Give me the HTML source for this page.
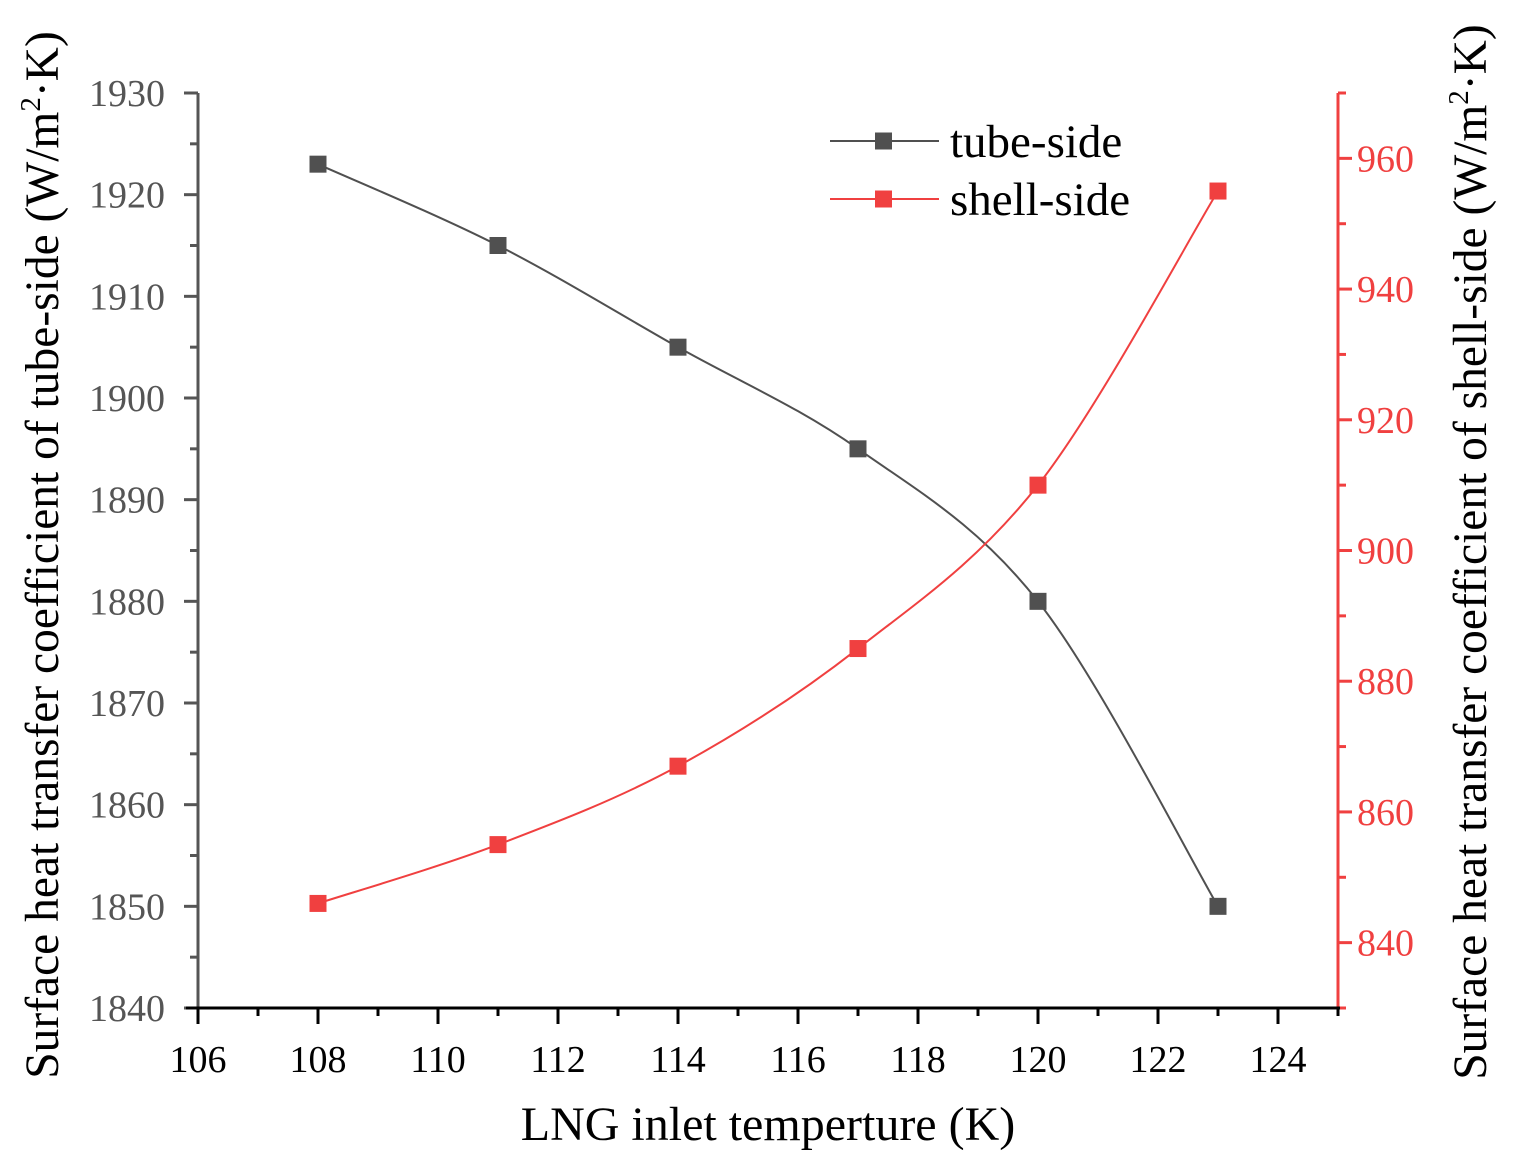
<!DOCTYPE html>
<html><head><meta charset="utf-8"><style>
html,body{margin:0;padding:0;background:#fff}
svg text{font-family:"Liberation Serif",serif}
</style></head><body>
<svg id="chart" width="1525" height="1171" viewBox="0 0 1525 1171" xmlns="http://www.w3.org/2000/svg"></svg>
<script>
const categories=[108,111,114,117,120,123];
const tubeValues=[1923,1915,1905,1895,1880,1850];
const shellValues=[846,855,867,885,910,955];
const xTicks=[106,108,110,112,114,116,118,120,122,124];
const leftTicks=[1840,1850,1860,1870,1880,1890,1900,1910,1920,1930];
const rightTicks=[840,860,880,900,920,940,960];

const svg=document.getElementById('chart');
const NS='http://www.w3.org/2000/svg';
const X0=198,X1=1338,Y0=1008,Y1=93;
const xs=v=>X0+(v-106)/(125-106)*(X1-X0);
const yl=v=>Y0-(v-1840)/(1930-1840)*(Y0-Y1);
const yr=v=>Y0-(v-830)/(970-830)*(Y0-Y1);
function mk(tag,attrs,parent){const e=document.createElementNS(NS,tag);for(const k in attrs)e.setAttribute(k,attrs[k]);(parent||svg).appendChild(e);return e;}
function txt(s,attrs){const e=mk('text',attrs);e.textContent=s;return e;}

// left axis
const la=mk('g',{});


mk('line',{x1:X0,y1:Y1,x2:X0,y2:Y0+1,stroke:'#555',"stroke-width":3},la);
for(let v=1840;v<=1930;v+=5){const y=yl(v);const major=v%10===0;mk('line',{x1:X0,y1:y,x2:X0-(major?14:8),y2:y,stroke:'#555',"stroke-width":3},la);}
leftTicks.forEach(v=>{const t=txt(v,{x:X0-33,y:yl(v)+13,"font-size":38,fill:'#555',"text-anchor":'end'});

});
// right axis
const ra=mk('g',{});


mk('line',{x1:X1,y1:Y1,x2:X1,y2:Y0+1,stroke:'#f04040',"stroke-width":3},ra);
for(let v=830;v<=970;v+=10){const y=yr(v);const major=v%20===0;mk('line',{x1:X1,y1:y,x2:X1+(major?14:8),y2:y,stroke:'#f04040',"stroke-width":3},ra);}
rightTicks.forEach(v=>{const t=txt(v,{x:X1+19,y:yr(v)+13,"font-size":38,fill:'#f04040'});

});
// bottom axis
const ba=mk('g',{});


mk('line',{x1:X0-12,y1:Y0,x2:X1+2,y2:Y0,stroke:'#000',"stroke-width":3},ba);
for(let v=106;v<=125;v+=1){const x=xs(v);const major=v%2===0;mk('line',{x1:x,y1:Y0,x2:x,y2:Y0+(major?16:8),stroke:'#000',"stroke-width":3},ba);}
xTicks.forEach(v=>{const t=txt(v,{x:xs(v),y:1072,"font-size":38,fill:'#000',"text-anchor":'middle'});

});

// titles
const xt=txt('LNG inlet temperture (K)',{x:768,y:1140,"font-size":48,"text-anchor":'middle'});


const lt=mk('text',{transform:'translate(58,555) rotate(-90)',"font-size":47.5,"text-anchor":'middle'});


lt.innerHTML='Surface heat transfer coefficient of tube-side (W/m<tspan dy="-18" font-size="29">2</tspan><tspan dy="18">·K)</tspan>';
const rt=mk('text',{transform:'translate(1486,552) rotate(-90)',"font-size":47.5,"text-anchor":'middle'});


rt.innerHTML='Surface heat transfer coefficient of shell-side (W/m<tspan dy="-18" font-size="29">2</tspan><tspan dy="18">·K)</tspan>';

// smooth path (Catmull-Rom)
function smooth(pts){let d=`M${pts[0][0]},${pts[0][1]}`;for(let i=0;i<pts.length-1;i++){const p0=pts[Math.max(0,i-1)],p1=pts[i],p2=pts[i+1],p3=pts[Math.min(pts.length-1,i+2)];
const c1=[p1[0]+(p2[0]-p0[0])/6,p1[1]+(p2[1]-p0[1])/6],c2=[p2[0]-(p3[0]-p1[0])/6,p2[1]-(p3[1]-p1[1])/6];d+=` C${c1[0]},${c1[1]} ${c2[0]},${c2[1]} ${p2[0]},${p2[1]}`;}return d;}
function series(vals,yf,color,name){
  const pts=categories.map((c,i)=>[xs(c),yf(vals[i])]);
  const p=mk('path',{d:smooth(pts),fill:'none',stroke:color,"stroke-width":2});
  
  
  pts.forEach(q=>{const r=mk('rect',{x:q[0]-8.5,y:q[1]-8.5,width:17,height:17,fill:color});
  
  });
}
series(tubeValues,yl,'#505050','tube-side');
series(shellValues,yr,'#f04040','shell-side');

// legend
function legend(y,color,label,name){
  const g=mk('g',{});
  
  
  mk('line',{x1:830,y1:y,x2:939,y2:y,stroke:color,"stroke-width":2},g);
  mk('rect',{x:875,y:y-8.5,width:17,height:17,fill:color},g);
  const t=mk('text',{x:950,y:y+16,"font-size":47,fill:'#000'},g);t.textContent=label;
}
legend(141,'#505050','tube-side','legend-entry-tube');
legend(199,'#f04040','shell-side','legend-entry-shell');
</script>
</body></html>
